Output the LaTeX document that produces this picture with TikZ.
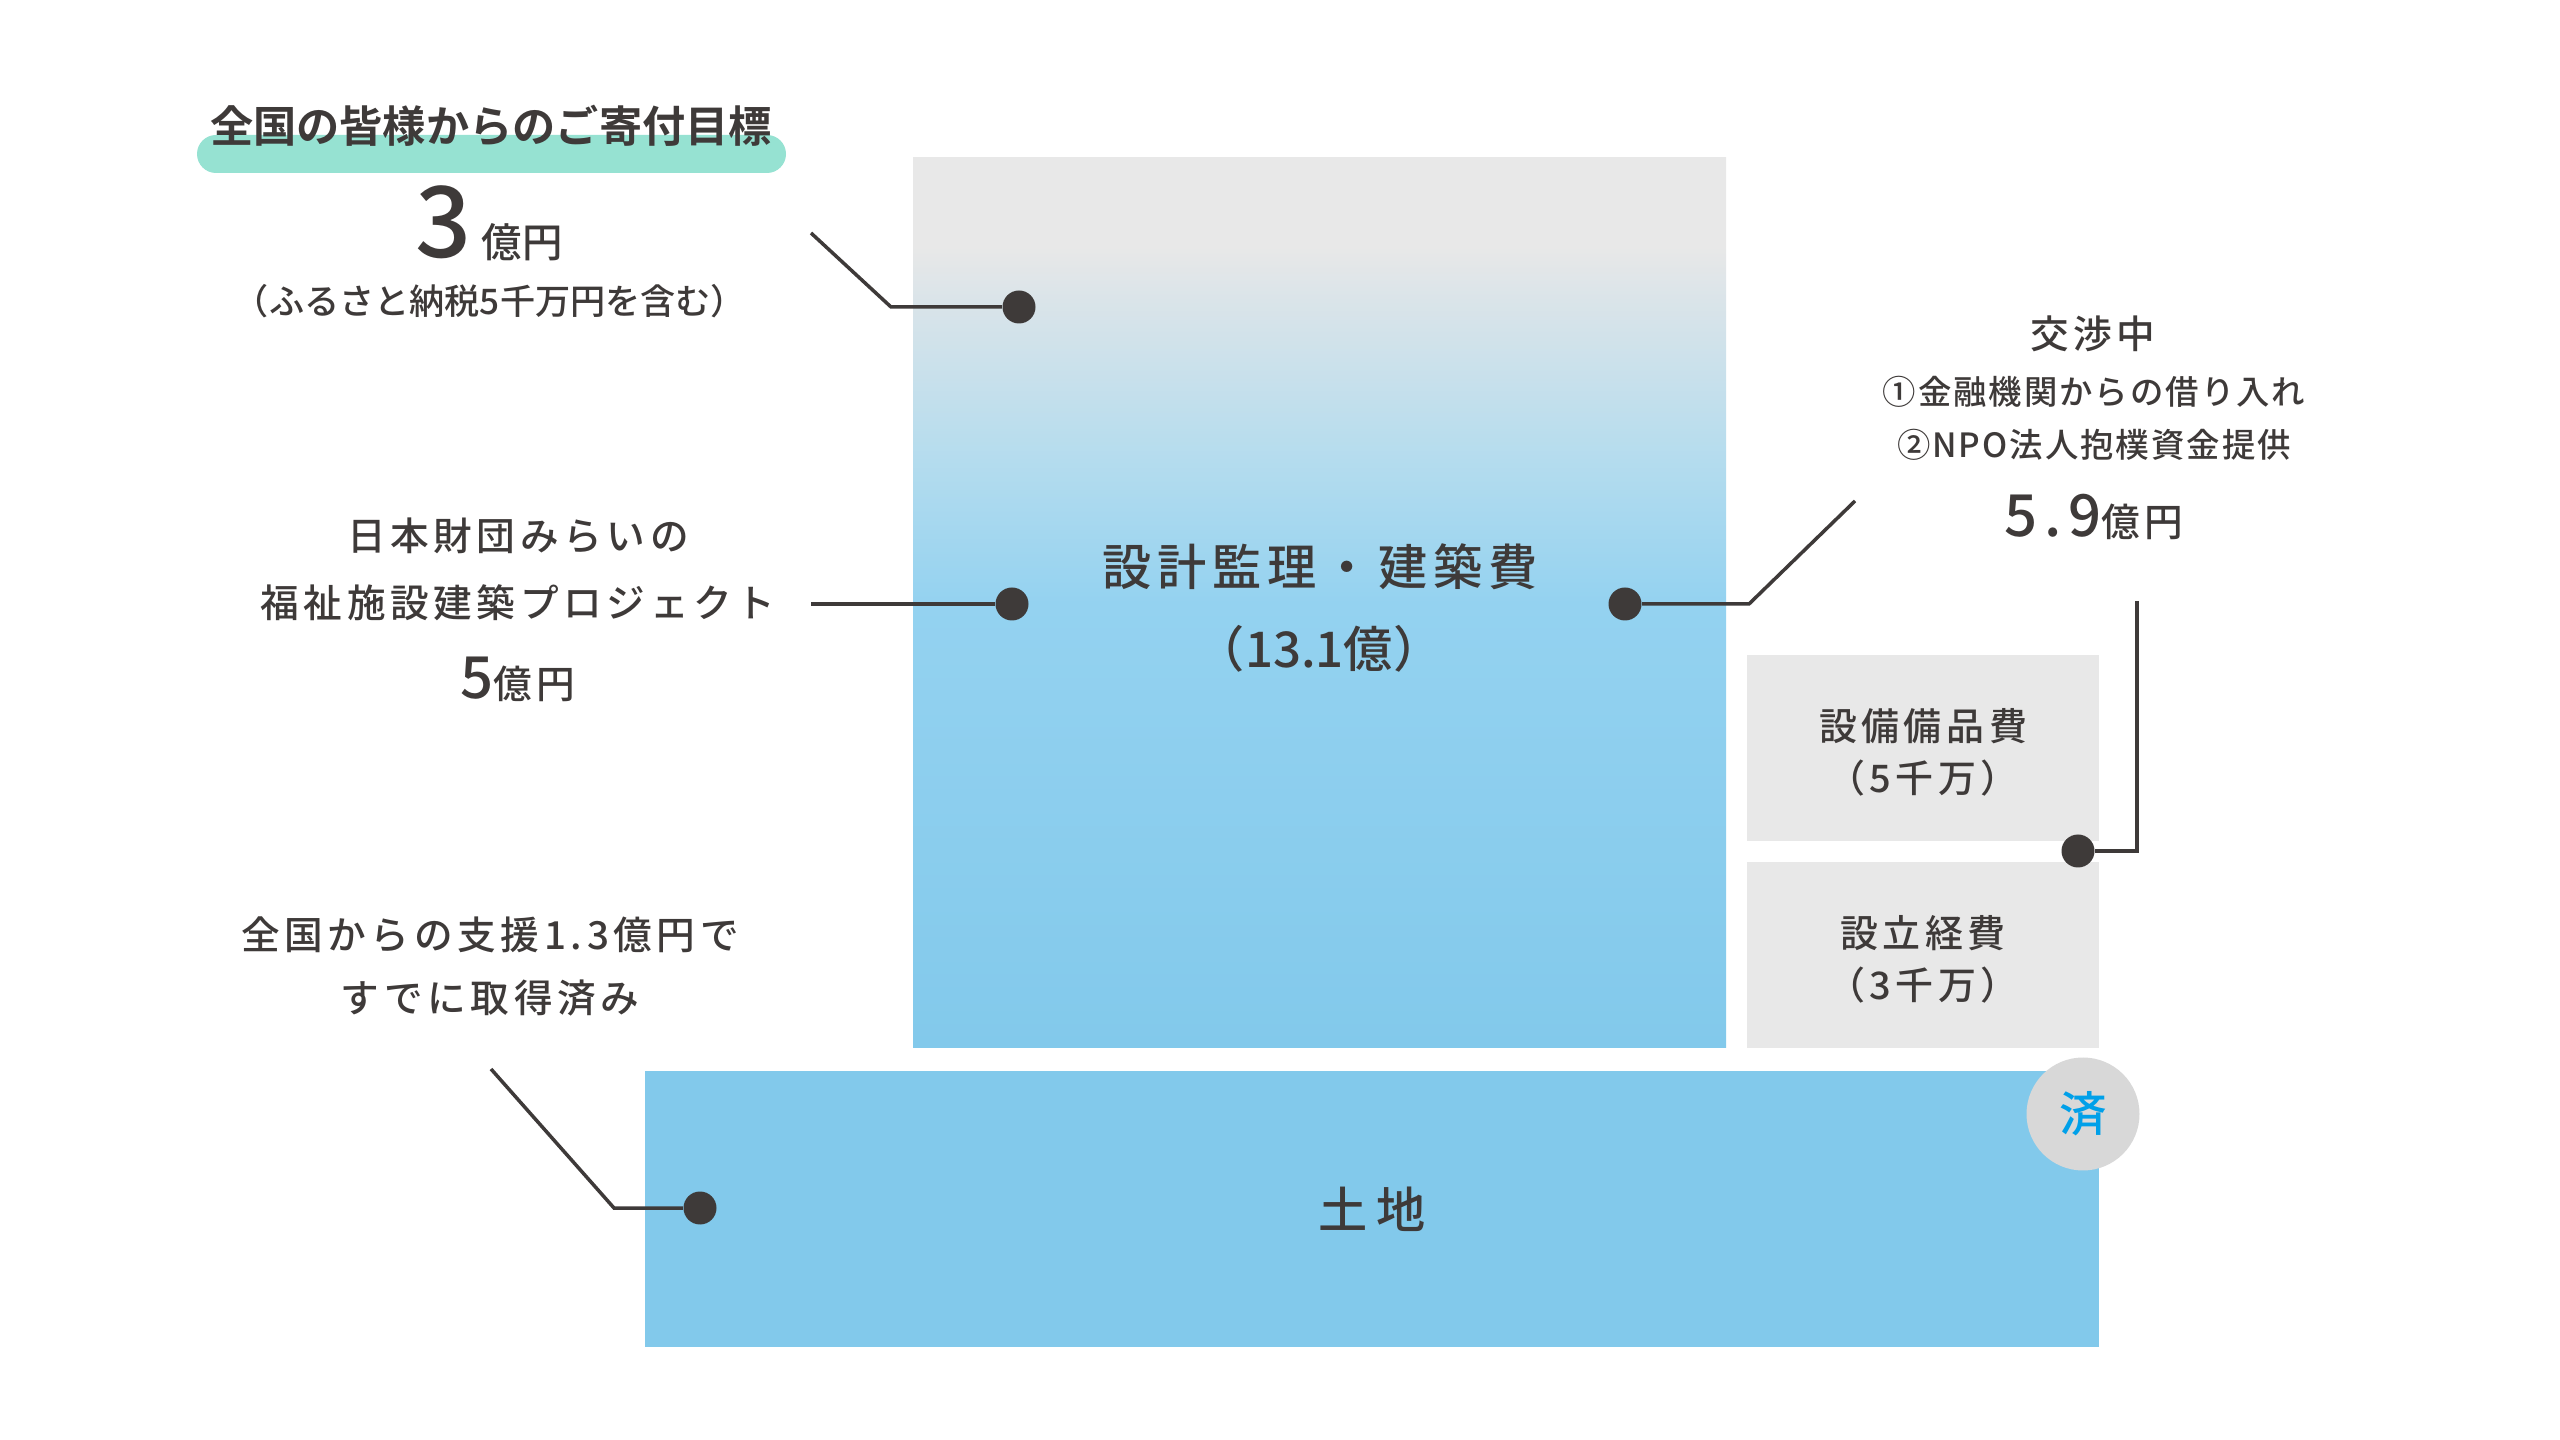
\documentclass[tikz,border=0pt]{standalone}
\usepackage{fontspec}
\usepackage{tikz}
\usetikzlibrary{positioning}
\setmainfont{Noto Sans CJK JP}[UprightFont=* Medium, BoldFont=* Bold]
\newfontfamily\spread{Noto Sans CJK JP}[UprightFont=* Medium, LetterSpace=12]
\newfontfamily\spreadwide{Noto Sans CJK JP}[UprightFont=* Medium, LetterSpace=19]
\newfontfamily\slight{Noto Sans CJK JP}[UprightFont=* Medium, LetterSpace=6]
\newcommand{\fsz}[1]{\fontsize{#1}{#1}\selectfont}
\definecolor{ink}{RGB}{62,58,57}
\definecolor{panel}{RGB}{232,232,232}
\definecolor{sky}{RGB}{130,201,235}
\definecolor{skymid}{RGB}{148,210,240}
\definecolor{skylight}{RGB}{180,220,238}
\definecolor{haze}{RGB}{218,228,233}
\definecolor{mint}{RGB}{150,226,210}
\definecolor{donegray}{RGB}{216,216,216}
\definecolor{doneblue}{RGB}{0,160,233}
\pgfdeclareverticalshading{fade}{100bp}{color(0bp)=(sky); color(25bp)=(sky); color(50bp)=(skymid); color(58bp)=(skylight); color(67bp)=(haze); color(70bp)=(panel); color(100bp)=(panel)}

\begin{document}
\begin{tikzpicture}[x=0.1mm, y=-0.1mm,
		lbl/.style={text=ink, inner sep=0pt, anchor=base},
		dot/.style={circle, fill=ink, inner sep=0pt, minimum size=3.3mm},
		lead/.style={draw=ink, line width=0.35mm}]
		\fill[white] (0,0) rectangle (2560,1440);
		\useasboundingbox (0,0) rectangle (2560,1440);
		% blocks
		\shade[shading=fade] (913,158) rectangle (1726,1048);
		\fill[panel] (1747,655) rectangle (2099,841);
		\fill[panel] (1747,862) rectangle (2099,1048);
		\fill[sky] (645,1071) rectangle (2099,1347);
		\node[circle, fill=donegray, text=doneblue, minimum size=11.3mm, inner sep=0pt, font=\fsz{13.5}] (done) at (2083,1114) {済};
		% goal (top left)
		\fill[mint, rounded corners=1.9mm] (197,135) rectangle (786,173);
		\node[lbl, font={\bfseries\fsz{12.3}}] (goal) at (491,143) {全国の皆様からのご寄付目標};
		\node[lbl] (goalsum) at (489,258) {\fsz{28}3\hspace{1mm}\fsz{11.5}億円};
		\node[lbl, font=\fsz{10}] (furusato) at (490,315) {（ふるさと納税5千万円を含む）};
		% project (middle left)
		\node[lbl, font={\spread\fsz{11}}] (proj1) at (518,551) {日本財団みらいの};
		\node[lbl, font={\spread\fsz{11}}] (proj2) at (518,618) {福祉施設建築プロジェクト};
		\node[lbl, font=\spread] (proj3) at (518,699) {\fsz{16.5}5\fsz{11}億円};
		% land (bottom left)
		\node[lbl, font={\spread\fsz{11}}] (land1) at (490,950) {全国からの支援1.3億円で};
		\node[lbl, font={\spread\fsz{11}}] (land2) at (490,1013) {すでに取得済み};
		% negotiation (right)
		\node[lbl, font={\spread\fsz{11}}] (nego1) at (2093,349) {交渉中};
		\node[lbl, font={\slight\fsz{9.5}}] (nego2) at (2094,405) {①金融機関からの借り入れ};
		\node[lbl, font={\slight\fsz{9.5}}] (nego3) at (2094,458) {②NPO法人抱樸資金提供};
		\node[lbl, font=\spread] (nego4) at (2094,537) {\fsz{16.5}5.9\fsz{11}億円};
		% box labels
		\node[lbl, font={\spread\fsz{14}}] (build1) at (1320,586) {設計監理・建築費};
		\node[lbl, font=\fsz{14}] (build2) at (1319,668) {（13.1億）};
		\node[lbl, font={\spread\fsz{10.8}}] (equip1) at (1923,741) {設備備品費};
		\node[lbl, font={\spread\fsz{10.8}}] (equip2) at (1923,793) {（5千万）};
		\node[lbl, font={\spread\fsz{10.8}}] (setup1) at (1923,948) {設立経費};
		\node[lbl, font={\spread\fsz{10.8}}] (setup2) at (1923,1000) {（3千万）};
		\node[lbl, font={\spreadwide\fsz{14}}] (site) at (1372,1228) {土地};
		% leader lines
		\coordinate (s1) at (811,233);
		\coordinate (k1) at (891,307);
		\node[dot] (d1) at (1019,307) {};
		\draw[lead] (s1) -- (k1) -- (d1);
		\coordinate (s2) at (811,604);
		\node[dot] (d2) at (1012,604) {};
		\draw[lead] (s2) -- (d2);
		\coordinate (s3) at (1855,501);
		\coordinate (k3) at (1749,604);
		\node[dot] (d3) at (1625,604) {};
		\draw[lead] (s3) -- (k3) -- (d3);
		\coordinate (s4) at (2137,601);
		\coordinate (k4) at (2137,851);
		\node[dot] (d4) at (2078,851) {};
		\draw[lead] (s4) -- (k4) -- (d4);
		\coordinate (s5) at (491,1069);
		\coordinate (k5) at (614,1208);
		\node[dot] (d5) at (700,1208) {};
		\draw[lead] (s5) -- (k5) -- (d5);
	\end{tikzpicture}
\end{document}
